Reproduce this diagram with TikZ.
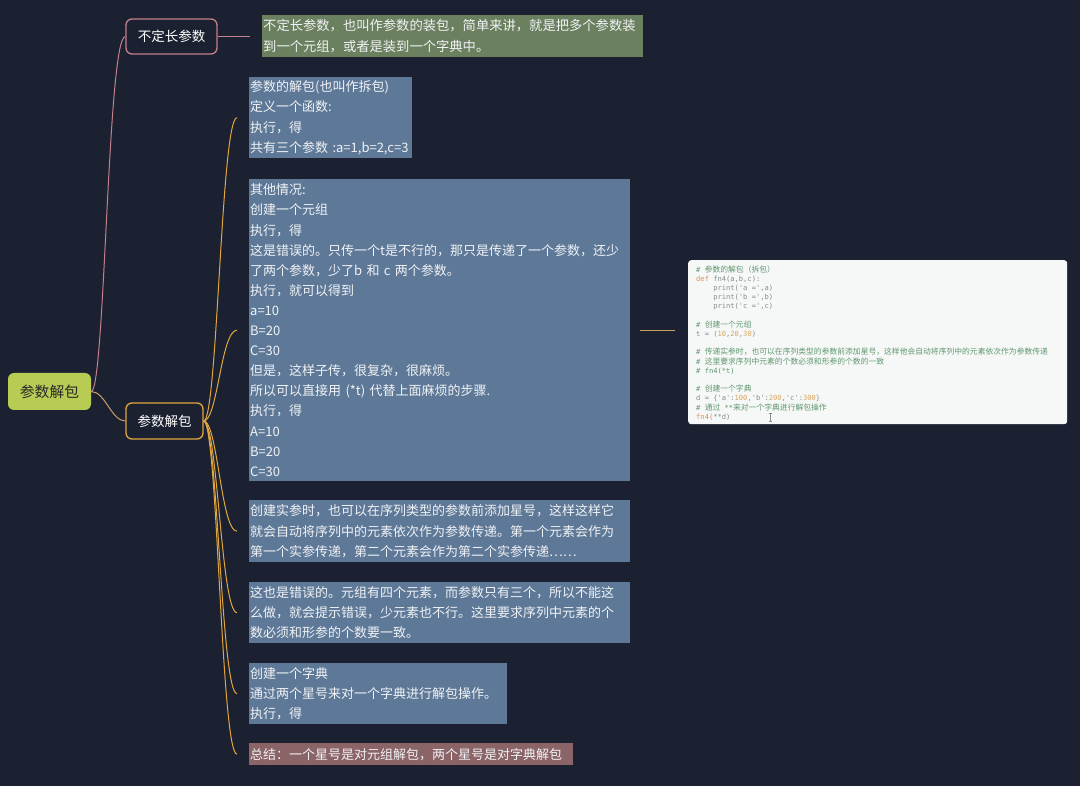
\documentclass[tikz,border=0pt]{standalone}
\usepackage{fontspec}
\setmainfont{Noto Sans CJK SC}
\newfontfamily\cmono{DejaVu Sans Mono}
\newfontfamily\cjk{Noto Sans CJK SC}
\definecolor{bg}{RGB}{28,33,50}
\definecolor{boxblue}{RGB}{94,121,152}
\definecolor{boxgreen}{RGB}{107,128,95}
\definecolor{boxpink}{RGB}{139,100,104}
\definecolor{rootgreen}{RGB}{184,204,84}
\definecolor{pinkline}{RGB}{196,128,140}
\definecolor{gold}{RGB}{226,166,62}
\definecolor{tanline}{RGB}{200,160,100}
\definecolor{notetext}{RGB}{240,242,245}
\definecolor{codebg}{RGB}{246,248,247}
\definecolor{codecom}{RGB}{95,150,110}
\definecolor{codetxt}{RGB}{135,140,145}
\definecolor{codekw}{RGB}{222,140,90}
\definecolor{codenum}{RGB}{215,165,95}
\tikzset{
  topic/.style={draw, rounded corners=6pt, line width=1.3pt, fill=bg, text=white,
    font=\fontsize{13.5}{16}\selectfont, inner sep=0pt, align=center},
  rootnode/.style={fill=rootgreen, rounded corners=6pt, text={rgb,255:red,40;green,40;blue,40},
    font=\fontsize{14.8}{17}\selectfont, inner sep=0pt, minimum width=83pt, minimum height=37pt},
  note/.style={anchor=north west, inner xsep=1pt, inner ysep=0pt, align=left, text=notetext,
    font=\fontsize{13}{20.1}\selectfont},
  link/.style={line width=1pt},
  codeline/.style={anchor=base west, inner sep=0pt, font=\cmono\fontsize{7.1}{9}\selectfont, text=codetxt},
}
\newcommand{\cj}[1]{{\cjk\fontsize{7.8}{9}\selectfont #1}}
\begin{document}
\begin{tikzpicture}[x=1pt,y=-1pt]
\fill[bg] (0,0) rectangle (1080,786);
\useasboundingbox (0,0) rectangle (1080,786);

% topics
\node[rootnode] (root) at (49.5,391.5) {参数解包};
\node[topic, draw=pinkline, minimum width=91pt, minimum height=35pt] (n1) at (171.5,36.5) {不定长参数};
\node[topic, draw=gold, minimum width=77pt, minimum height=36pt] (n2) at (164.5,421) {参数解包};

% notes
\node[note, fill=boxgreen, text width=379pt, minimum height=42pt, font=\fontsize{13.3}{20.5}\selectfont] (g) at (262,15)
 {不定长参数，也叫作参数的装包，简单来讲，就是把多个参数装\\到一个元组，或者是装到一个字典中。};
\node[note, fill=boxblue, text width=161pt, minimum height=81pt] (b1) at (249,77)
 {参数的解包(也叫作拆包)\\定义一个函数:\\执行，得\\共有三个参数 :a=1,b=2,c=3};
\node[note, fill=boxblue, text width=379pt, minimum height=302pt] (b2) at (249,179)
 {其他情况:\\创建一个元组\\执行，得\\这是错误的。只传一个t是不行的，那只是传递了一个参数，还少\\了两个参数，少了b 和 c 两个参数。\\执行，就可以得到\\a=10\\B=20\\C=30\\但是，这样子传，很复杂，很麻烦。\\所以可以直接用 (*t) 代替上面麻烦的步骤.\\执行，得\\A=10\\B=20\\C=30};
\node[note, fill=boxblue, text width=379pt, minimum height=62pt] (b3) at (249,500)
 {创建实参时，也可以在序列类型的参数前添加星号，这样这样它\\就会自动将序列中的元素依次作为参数传递。第一个元素会作为\\第一个实参传递，第二个元素会作为第二个实参传递……};
\node[note, fill=boxblue, text width=379pt, minimum height=61pt] (b4) at (249,582)
 {这也是错误的。元组有四个元素，而参数只有三个，所以不能这\\么做，就会提示错误，少元素也不行。这里要求序列中元素的个\\数必须和形参的个数要一致。};
\node[note, fill=boxblue, text width=256pt, minimum height=61pt] (b5) at (249,663)
 {创建一个字典\\通过两个星号来对一个字典进行解包操作。\\执行，得};
\node[note, fill=boxpink, text width=322pt, minimum height=22pt] (b6) at (249,743)
 {总结：一个星号是对元组解包，两个星号是对字典解包};

% code image
\node[fill=codebg, rounded corners=3pt, minimum width=379pt, minimum height=164pt,
  anchor=north west, inner sep=0pt] (img) at (688,260) {};
\node[codeline, text=codecom] at (696,272.2) {\# \cj{参数的解包（拆包）}};
\node[codeline] at (696,281.4) {\textcolor{codekw}{def} fn4(a,b,c):};
\node[codeline] at (696,290.6) {\ \ \ \ print('a =',a)};
\node[codeline] at (696,299.8) {\ \ \ \ print('b =',b)};
\node[codeline] at (696,309.0) {\ \ \ \ print('c =',c)};
\node[codeline, text=codecom] at (696,327.4) {\# \cj{创建一个元组}};
\node[codeline] at (696,336.6) {t = (\textcolor{codenum}{10},\textcolor{codenum}{20},\textcolor{codenum}{30})};
\node[codeline, text=codecom] at (696,355.0) {\# \cj{传递实参时，也可以在序列类型的参数前添加星号，这样他会自动将序列中的元素依次作为参数传递}};
\node[codeline, text=codecom] at (696,364.2) {\# \cj{这里要求序列中元素的个数必须和形参的个数的一致}};
\node[codeline, text=codecom] at (696,373.4) {\# fn4(*t)};
\node[codeline, text=codecom] at (696,391.8) {\# \cj{创建一个字典}};
\node[codeline] at (696,401.0) {d = \{'a':\textcolor{codenum}{100},'b':\textcolor{codenum}{200},'c':\textcolor{codenum}{300}\}};
\node[codeline, text=codecom] at (696,410.2) {\# \cj{通过} **\cj{来对一个字典进行解包操作}};
\node[codeline] at (696,419.4) {\textcolor{codekw}{fn4(}**d)};
\draw[codetxt, line width=0.6pt] (768.5,413) -- (771.5,413) (770,413) -- (770,421) (768.5,421) -- (771.5,421);

% connectors
\draw[link, pinkline] (root.east) .. controls +(14,0) and +(-18,0) .. (n1.west);
\draw[link, tanline] (root.east) .. controls +(14,0) and +(-14,0) .. (n2.west);
\draw[link, pinkline, shorten >=12pt] (n1.east) -- (n1.east -| g.west);
\foreach \b in {b1,b2,b3,b4,b5,b6}
  \draw[link, gold] (n2.east) .. controls +(14,0) and +(-16,0) .. ([xshift=-12pt]\b.west);
\draw[link, tanline, shorten <=10pt, shorten >=13pt] (b2.east) -- (b2.east -| img.west);
\end{tikzpicture}
\end{document}
